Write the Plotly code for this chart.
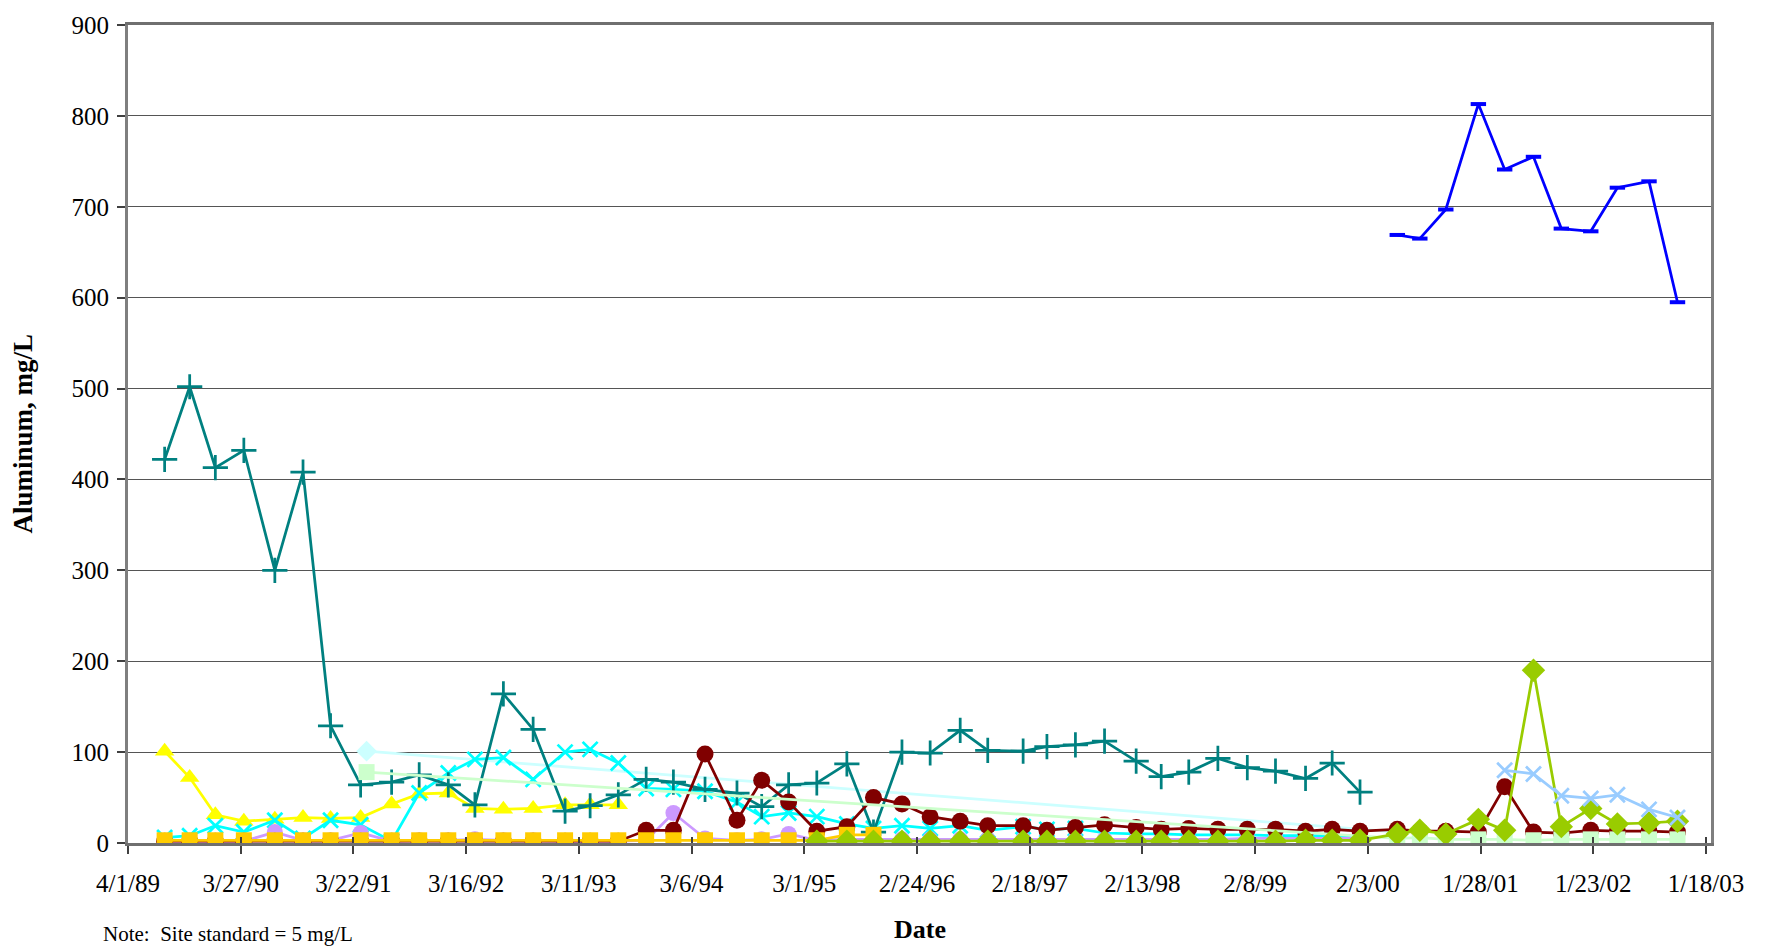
import plotly.graph_objects as go

# Quarterly sampling dates, 1989-2000
dates_a = ["1989-07-27", "1989-10-15", "1990-01-05", "1990-04-06", "1990-07-14", "1990-10-12",
           "1991-01-08", "1991-04-14", "1991-07-22", "1991-10-18", "1992-01-19", "1992-04-13",
           "1992-07-13", "1992-10-16", "1993-01-26", "1993-04-16", "1993-07-15", "1993-10-12",
           "1994-01-07", "1994-04-18", "1994-07-29", "1994-10-16", "1995-01-10", "1995-04-10",
           "1995-07-15", "1995-10-08", "1996-01-07", "1996-04-06", "1996-07-11", "1996-10-07",
           "1997-01-28", "1997-04-14", "1997-07-14", "1997-10-15", "1998-01-24", "1998-04-14",
           "1998-07-11", "1998-10-12", "1999-01-14", "1999-04-14", "1999-07-19", "1999-10-12",
           "2000-01-09"]
# Quarterly sampling dates, 2000-2002
dates_b = ["2000-05-07", "2000-07-18", "2000-10-09", "2001-01-21", "2001-04-15", "2001-07-16",
           "2001-10-13", "2002-01-15", "2002-04-10", "2002-07-20", "2002-10-19"]
early_date = "1991-05-03"

# Aluminum, mg/L, per well
al_teal = [422, 502, 413, 432, 300, 408, 129, 64, 67, 75,
           64, 42, 164, 125, 35, 41, 53, 70, 67, 59,
           55, 40, 64, 66, 87, 12, 100, 99, 124, 102,
           101, 106, 108, 112, 90, 73, 78, 93, 83, 79,
           71, 88, 56]
al_yellow = [101, 72, 31, 24, 26, 28, 27, 28, 43, 54, 55, 38, 37, 38, 42, 42, 42]
al_cyan = [6, 8, 19, 12, 25, 5, 25, 20, 2, 55,
           77, 92, 94, 70, 100, 103, 88, 60, 59, 57,
           45, 29, 33, 29, 21, 16, 19, 16, 19, 14,
           18, 15, 16, 11, 10, 10, 9, 9, 9, 8,
           8, 8, 7]
al_purple = [2, 2, 2, 2, 12, 3, 3, 11, 2, 3,
             3, 4, 3, 3, 2, 2, 2, 3, 33, 5,
             3, 4, 10, 3, 4, 4, 4, 4, 4, 4,
             4, 4, 4, 4, 4, 4, 4, 4, 5, 5,
             5, 5, 5]
al_darkred = [2, 2, 2, 2, 2, 2, 2, 2, 2, 2,
              2, 2, 2, 2, 2, 2, 2, 14, 14, 98,
              25, 69, 45, 13, 18, 50, 43, 29, 24, 19,
              19, 14, 17, 20, 17, 15, 16, 15, 15, 15,
              13, 15, 13,
              15, 13, 13, 12, 62, 12, 11, 14, 13, 13, 12]
al_orange = [3, 3, 3, 3, 3, 3, 3, 3, 3, 3,
             3, 3, 3, 3, 3, 3, 3, 3, 3, 3,
             3, 3, 3, 3, 9, 9]
al_green = [2, 2, 2, 2, 2, 2, 2, 2, 2, 2,
            2, 2, 2, 2, 2, 2, 2, 3, 3, 3,
            10, 14, 10, 26, 14, 190, 18, 38, 21, 22, 24]
al_lightblue = [80, 76, 52, 49, 53, 37, 28]
al_blue = [669, 665, 697, 813, 741, 755, 676, 673, 721, 728, 595]
al_lightgreen = [78, 5, 6, 4, 4, 4, 3, 4, 4, 4, 4, 4]
al_lightcyan = [101, 12]

# Axis ticks every 360 days
tick_dates = ["1989-04-01", "1990-03-27", "1991-03-22", "1992-03-16", "1993-03-11",
              "1994-03-06", "1995-03-01", "1996-02-24", "1997-02-18", "1998-02-13",
              "1999-02-08", "2000-02-03", "2001-01-28", "2002-01-23", "2003-01-18"]
tick_text = ["4/1/89", "3/27/90", "3/22/91", "3/16/92", "3/11/93", "3/6/94", "3/1/95",
             "2/24/96", "2/18/97", "2/13/98", "2/8/99", "2/3/00", "1/28/01", "1/23/02",
             "1/18/03"]

FONT = "Liberation Serif, Times New Roman, serif"
LW = 2.75

wells = [
    # name, dates, values, color, symbol, size, open-line marker
    ("Well K", [early_date, dates_b[0]], al_lightcyan, "#CCFFFF", "diamond", 16, False),
    ("Well B", dates_a[:len(al_yellow)], al_yellow, "#FFFF00", "triangle-up", 17, False),
    ("Well C", dates_a, al_cyan, "#00FFFF", "x-thin", 15, True),
    ("Well A", dates_a, al_teal, "#008080", "cross-thin", 18, True),
    ("Well D", dates_a, al_purple, "#CC99FF", "circle", 16, False),
    ("Well E", dates_a + dates_b, al_darkred, "#800000", "circle", 17, False),
    ("Well F", dates_a[:len(al_orange)], al_orange, "#FFCC00", "square", 16, False),
    ("Well J", [early_date] + dates_b, al_lightgreen, "#CCFFCC", "square", 16, False),
    ("Well G", dates_a[23:] + dates_b, al_green, "#99CC00", "diamond", 18, False),
    ("Well I", dates_b[4:], al_lightblue, "#99CCFF", "x-thin", 15, True),
    ("Well H", dates_b, al_blue, "#0000FF", "line-ew", 11, True),
]

fig = go.Figure()
for name, xs, ys, color, symbol, size, open_marker in wells:
    if open_marker:
        marker = dict(symbol=symbol, size=size, color=color,
                      line=dict(color=color, width=4 if symbol == "line-ew" else 2.75))
    else:
        marker = dict(symbol=symbol, size=size, color=color, line=dict(width=0))
    fig.add_trace(go.Scatter(
        x=xs, y=ys, name=name, mode="lines+markers",
        line=dict(color=color, width=LW), marker=marker,
        connectgaps=True, showlegend=False,
    ))

# Overlay axis carrying the inner half of the crossing tick marks
fig.add_trace(go.Scatter(x=tick_dates, y=[0] * len(tick_dates), xaxis="x2",
                         mode="markers", marker=dict(opacity=0, size=1),
                         hoverinfo="skip", showlegend=False))

x_range = ["1989-04-01", "2003-02-03"]
fig.update_layout(
    width=1767, height=946,
    margin=dict(l=128, r=56, t=18, b=103),
    paper_bgcolor="white", plot_bgcolor="white",
    font=dict(family=FONT, size=25, color="black"),
    showlegend=False,
    xaxis=dict(type="date", range=x_range, tickvals=tick_dates, ticktext=tick_text,
               ticks="outside", ticklen=8, tickwidth=1.5, tickcolor="#404040",
               showgrid=False, zeroline=False, showline=True, linecolor="#6f6f6f",
               linewidth=3, mirror=True, ticklabelstandoff=8,
               tickfont=dict(family=FONT, size=25, color="black")),
    xaxis2=dict(type="date", range=x_range, overlaying="x", anchor="y", side="bottom",
                tickvals=tick_dates, ticks="inside", ticklen=6, tickwidth=1.5,
                tickcolor="#404040", showticklabels=False, showgrid=False,
                zeroline=False, showline=False),
    yaxis=dict(range=[0, 900], dtick=100, ticks="outside", ticklen=8, tickwidth=1.5,
               tickcolor="#404040", showgrid=True, gridcolor="#555555", gridwidth=1.2,
               zeroline=False, showline=True, linecolor="#7f7f7f", linewidth=3,
               mirror=True, ticklabelstandoff=3,
               tickfont=dict(family=FONT, size=25, color="black")),
    annotations=[
        dict(text="<b>Aluminum, mg/L</b>", xref="paper", yref="paper",
             x=-0.0666, y=0.5, xanchor="center", yanchor="middle", textangle=-90,
             showarrow=False, font=dict(family=FONT, size=27, color="black")),
        dict(text="<b>Date</b>", xref="paper", yref="paper", x=0.5, y=-0.1055,
             xanchor="center", yanchor="middle", showarrow=False,
             font=dict(family=FONT, size=26, color="black")),
        dict(text="Note:\u00a0 Site standard = 5 mg/L", xref="paper", yref="paper",
             x=-0.017, y=-0.1115, xanchor="left", yanchor="middle", showarrow=False,
             font=dict(family=FONT, size=21, color="black")),
    ],
)

fig.write_html("out.html")
